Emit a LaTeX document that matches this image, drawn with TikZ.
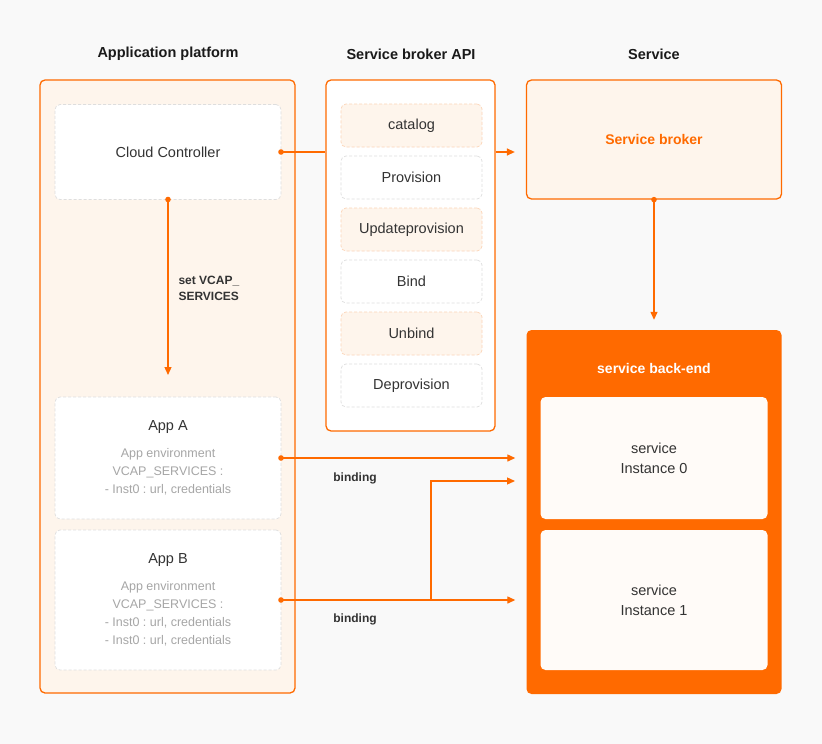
\documentclass[tikz,border=0pt]{standalone}
\usepackage{fontspec}
\setmainfont{Liberation Sans}
\frenchspacing
\usetikzlibrary{positioning,arrows.meta}
\definecolor{brand}{HTML}{FF6A00}
\definecolor{paleorange}{HTML}{FEF5EC}
\definecolor{bggray}{HTML}{F9F9F9}
\definecolor{dashgray}{HTML}{DEDEDE}
\definecolor{dashorange}{HTML}{FCD5B8}
\definecolor{txtgray}{HTML}{A6A6A6}
\definecolor{txtdark}{HTML}{333333}
\definecolor{txthead}{HTML}{1A1A1A}
\definecolor{instfill}{HTML}{FFFBF8}
\tikzset{
  lane/.style={draw=brand, line width=1.3pt, rounded corners=5pt, inner sep=0pt},
  card/.style={draw=dashgray, dash pattern=on 3pt off 2pt, fill=white, line width=0.7pt, rounded corners=5pt, inner sep=0pt, outer sep=0pt, minimum width=226pt},
  apicall/.style={card, minimum width=141pt, minimum height=43pt, text=txtdark, font=\fontsize{14.5}{17}\selectfont},
  apicallhl/.style={apicall, draw=dashorange, fill=paleorange},
  instbox/.style={fill=instfill, rounded corners=5pt, minimum width=227pt, inner sep=0pt, text=txtdark, align=center, font=\fontsize{14.5}{20}\selectfont},
  head/.style={text=txthead, font=\bfseries\fontsize{14.5}{17}\selectfont},
  main/.style={text=txtdark, font=\fontsize{14.5}{17}\selectfont},
  envtxt/.style={text=txtgray, align=center, font=\fontsize{12.5}{18}\selectfont},
  tag/.style={text=txtdark, align=left, font=\bfseries\fontsize{12}{16}\selectfont},
  wire/.style={draw=brand, line width=1.3pt},
  link/.style={wire, -{Triangle[length=8pt,width=7pt]}},
  knob/.style={fill=brand}
}
\begin{document}
\begin{tikzpicture}[x=1pt,y=-1pt]
\useasboundingbox (0,0) rectangle (822,744);
\fill[bggray] (0,0) rectangle (822,744);

\node[head] (hplat) at (168,54) {Application platform}; \node[head] (hapi) at (411,54) {Service broker API}; \node[head] (hsvc) at (654,54) {Service};

\node[lane, fill=paleorange, minimum width=255pt, minimum height=613pt] (plat) at (167.5,386.5) {};
\node[lane, fill=white, minimum width=169pt, minimum height=351pt] (api) at (410.5,255.5) {};
\node[lane, fill=paleorange, minimum width=255pt, minimum height=119pt, text=brand, font=\bfseries\fontsize{14}{17}\selectfont] (sb) at (654,139.5) {Service broker};
\node[fill=brand, rounded corners=5pt, minimum width=255pt, minimum height=364pt, inner sep=0pt] (be) at (654,512) {};

\node[card, minimum height=95pt, text=txtdark, font=\fontsize{14.5}{17}\selectfont] (cc) at (168,152) {Cloud Controller};
\node[card, minimum height=122pt] (appA) at (168,458) {}; \node[main] (appAname) at (168,427) {App A};
\node[envtxt] (appAenv) at (168,472) {App environment\\VCAP\_SERVICES :\\- Inst0 : url, credentials};
\node[card, minimum height=140pt] (appB) at (168,600) {}; \node[main] (appBname) at (168,560) {App B};
\node[envtxt] (appBenv) at (168,614) {App environment\\VCAP\_SERVICES :\\- Inst0 : url, credentials\\- Inst0 : url, credentials};

\node[apicallhl] (catalog) at (411.5,125.5) {catalog};
\node[apicall, below=9pt of catalog] (provision) {Provision};
\node[apicallhl, below=9pt of provision] (update) {Updateprovision};
\node[apicall, below=9pt of update] (bind) {Bind};
\node[apicallhl, below=9pt of bind] (unbind) {Unbind};
\node[apicall, below=9pt of unbind] (deprov) {Deprovision};

\node[text=white, font=\bfseries\fontsize{14}{17}\selectfont] (betitle) at (654,368) {service back-end};
\node[instbox, minimum height=122pt] (inst0) at (654,458) {service\\Instance 0};
\node[instbox, minimum height=140pt] (inst1) at (654,600) {service\\Instance 1};

\coordinate (sbtip) at ([xshift=-11pt]sb.west); \coordinate (betip) at ([xshift=-11pt]be.west);
\draw[wire] (cc.east) -- (cc.east -| api.west); \draw[link] (cc.east -| api.east) -- (cc.east -| sbtip);
\draw[link] (cc.south) -- ([yshift=22pt]appA.north);
\node[tag, anchor=west] (setvcap) at (175,288) {set VCAP\_\\SERVICES};
\draw[link] (sb.south) -- ([yshift=10pt]be.north);

\coordinate (split) at (431,600); \coordinate (bindtip) at (515,481);
\draw[link] (appA.east) -- (appA.east -| betip);
\draw[link] (appB.east) -- (appB.east -| betip);
\draw[link] (split) |- (bindtip);
\node[tag] (bindA) at (355,478) {binding}; \node[tag] (bindB) at (355,619) {binding};

\fill[knob] (cc.east) circle (2.8pt); \fill[knob] (cc.south) circle (2.8pt); \fill[knob] (sb.south) circle (2.8pt);
\fill[knob] (appA.east) circle (2.8pt); \fill[knob] (appB.east) circle (2.8pt);
\end{tikzpicture}
\end{document}
